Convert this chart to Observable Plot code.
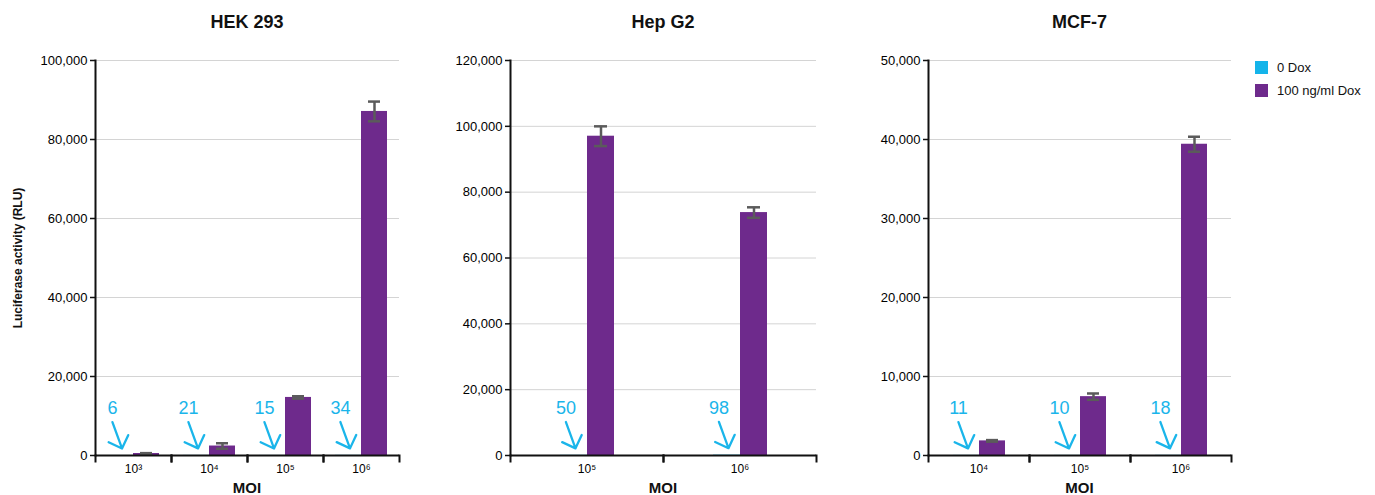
<!DOCTYPE html>
<html>
<head>
<meta charset="utf-8">
<script src="https://cdn.jsdelivr.net/npm/d3@7"></script>
<script src="https://cdn.jsdelivr.net/npm/@observablehq/plot@0.6"></script>
<style>
  html, body { margin: 0; padding: 0; background: #fff; }
  #chart { position: relative; width: 1375px; height: 495px; overflow: hidden; font-family: "Liberation Sans", Arial, Helvetica, sans-serif; }
  .panel { position: absolute; top: 0; }
  .title { position: absolute; top: 12px; font-weight: bold; font-size: 18px; transform: translateX(-50%); white-space: nowrap; color: #111; }
  .xlab { position: absolute; top: 479px; font-weight: bold; font-size: 15px; transform: translateX(-50%); color: #111; }
  .ylab { position: absolute; left: 18px; top: 258px; font-weight: bold; font-size: 12px; transform: translate(-50%, -50%) rotate(-90deg); white-space: nowrap; color: #111; }
  .legend { position: absolute; left: 1255px; top: 61px; font-size: 13px; color: #111; }
  .legend .item { display: flex; align-items: center; height: 13px; margin-bottom: 10px; }
  .legend .sw { width: 13px; height: 13px; margin-right: 9px; }
  svg { font-family: "Liberation Sans", Arial, Helvetica, sans-serif; }
</style>
</head>
<body>
<div id="chart"></div>
<script>
// ---- data ----
const cellLines = ["HEK 293", "Hep G2", "MCF-7"];
const doses = ["0 Dox", "100 ng/ml Dox"];
const doseColors = ["#14b4ea", "#6e2a8c"];

const hekMoi = ["10³", "10⁴", "10⁵", "10⁶"];
const hekZeroDox = [6, 21, 15, 34];
const hekDox = [500, 2400, 14700, 87100];
const hekErr = [100, 700, 300, 2500];
const hekTicks = [0, 20000, 40000, 60000, 80000, 100000];

const hepMoi = ["10⁵", "10⁶"];
const hepZeroDox = [50, 98];
const hepDox = [97000, 73800];
const hepErr = [3000, 1600];
const hepTicks = [0, 20000, 40000, 60000, 80000, 100000, 120000];

const mcfMoi = ["10⁴", "10⁵", "10⁶"];
const mcfZeroDox = [11, 10, 18];
const mcfDox = [1850, 7450, 39400];
const mcfErr = [100, 400, 950];
const mcfTicks = [0, 10000, 20000, 30000, 40000, 50000];

// ---- layout ----
const root = document.getElementById("chart");
const cyan = "#1ab5ea";
const errColor = "#5b5b5b";
const barWidth = 27;

function panel(opts) {
  const {title, moi, zero, dox, err, ticks, left, width, marginLeft, marginRight} = opts;
  const rows = moi.flatMap((m, i) => [
    {moi: m, dose: doses[0], v: zero[i], e: 0},
    {moi: m, dose: doses[1], v: dox[i], e: err[i]}
  ]);
  const zeroRows = rows.filter(d => d.dose === doses[0]);
  const doxRows = rows.filter(d => d.dose === doses[1]);
  const facetW = (width - marginLeft - marginRight) / moi.length;
  const padOuter = (facetW / barWidth - 2) / 2;
  const plotH = 495 - 60 - 40;

  const svg = Plot.plot({
    width, height: 495,
    marginTop: 60, marginBottom: 40, marginLeft, marginRight,
    style: {fontFamily: "Liberation Sans, Arial, sans-serif", background: "white"},
    fx: {domain: moi, padding: 0, axis: null},
    x: {domain: doses, paddingInner: 0, paddingOuter: padOuter, axis: null},
    y: {domain: [0, ticks[ticks.length - 1]], axis: null},
    color: {domain: doses, range: doseColors},
    marks: [
      Plot.gridY(ticks, {stroke: "#d4d4d4", strokeOpacity: 1, strokeWidth: 1}),
      Plot.barY(rows, {fx: "moi", x: "dose", y: "v", fill: "dose"}),
      Plot.ruleX(doxRows, {fx: "moi", x: "dose", y1: d => d.v - d.e, y2: d => d.v + d.e, stroke: errColor, strokeWidth: 2.5}),
      Plot.tickY(doxRows, {fx: "moi", x: "dose", y: d => d.v + d.e, stroke: errColor, strokeWidth: 2.5, inset: 7}),
      Plot.tickY(doxRows, {fx: "moi", x: "dose", y: d => d.v - d.e, stroke: errColor, strokeWidth: 2.5, inset: 7}),
      Plot.ruleY([0], {stroke: "#111", strokeWidth: 2}),
      Plot.frame({anchor: "left", stroke: "#111", strokeWidth: 2, insetTop: plotH, insetBottom: -6}),
      Plot.frame({anchor: "right", stroke: "#111", strokeWidth: 2, insetTop: plotH, insetBottom: -6}),
      Plot.frame({anchor: "left", facetAnchor: "left", stroke: "#111", strokeWidth: 2}),
      Plot.axisY(ticks, {anchor: "left", tickSize: 5, tickPadding: 3, tickFormat: d3.format(","), fontSize: 13, label: null, stroke: "#111", strokeWidth: 1.5}),
      Plot.axisFx({anchor: "bottom", tickSize: 0, tickPadding: 9, fontSize: 12, label: null}),
      Plot.text(zeroRows, {fx: "moi", x: "dose", y: "v", text: d => String(d.v), dx: -8, dy: -47, fontSize: 18, fill: cyan}),
      Plot.vector(zeroRows, {fx: "moi", x: "dose", y: "v", length: 28, r: 6.5, rotate: 160, anchor: "end", stroke: cyan, strokeWidth: 2.3, dx: 1.5, dy: -7})
    ]
  });
  svg.classList.add("panel");
  svg.style.left = left + "px";
  root.appendChild(svg);

  const centerX = left + marginLeft + (width - marginLeft - marginRight) / 2;
  const t = document.createElement("div");
  t.className = "title"; t.textContent = title; t.style.left = centerX + "px";
  root.appendChild(t);
  const xl = document.createElement("div");
  xl.className = "xlab"; xl.textContent = "MOI"; xl.style.left = centerX + "px";
  root.appendChild(xl);
}

panel({title: cellLines[0], moi: hekMoi, zero: hekZeroDox, dox: hekDox, err: hekErr, ticks: hekTicks, left: 0, width: 420, marginLeft: 94, marginRight: 20});
panel({title: cellLines[1], moi: hepMoi, zero: hepZeroDox, dox: hepDox, err: hepErr, ticks: hepTicks, left: 420, width: 420, marginLeft: 90, marginRight: 24});
panel({title: cellLines[2], moi: mcfMoi, zero: mcfZeroDox, dox: mcfDox, err: mcfErr, ticks: mcfTicks, left: 840, width: 410, marginLeft: 87, marginRight: 18});

const yl = document.createElement("div");
yl.className = "ylab"; yl.textContent = "Luciferase activity (RLU)";
root.appendChild(yl);

const legend = document.createElement("div");
legend.className = "legend";
doses.forEach((d, i) => {
  const item = document.createElement("div");
  item.className = "item";
  const sw = document.createElement("div");
  sw.className = "sw"; sw.style.background = doseColors[i];
  const lab = document.createElement("span");
  lab.textContent = d;
  item.appendChild(sw); item.appendChild(lab);
  legend.appendChild(item);
});
root.appendChild(legend);
</script>
</body>
</html>
